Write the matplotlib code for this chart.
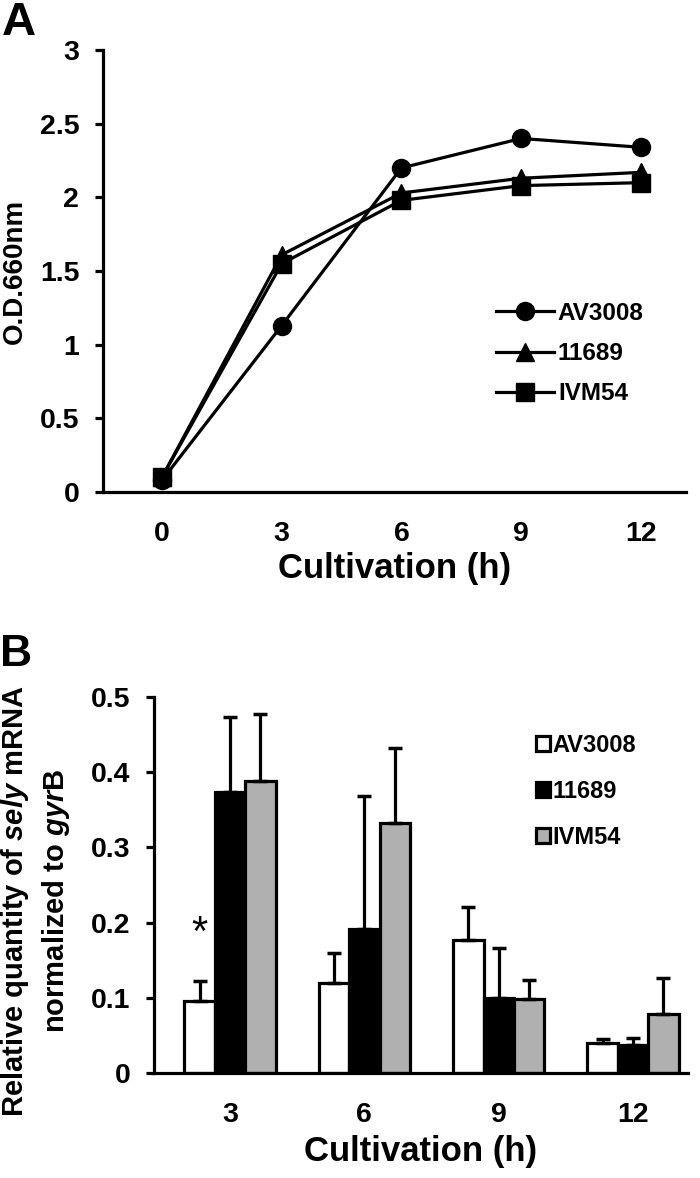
import matplotlib
matplotlib.use("Agg")
import matplotlib.pyplot as plt
import numpy as np
from matplotlib.ticker import FormatStrFormatter

plt.rcParams['font.family'] = ['Liberation Sans', 'DejaVu Sans']
plt.rcParams['font.weight'] = 'bold'
plt.rcParams['mathtext.fontset'] = 'custom'
plt.rcParams['mathtext.it'] = 'Liberation Sans:italic:bold'
plt.rcParams['mathtext.rm'] = 'Liberation Sans:bold'

# ======================= Data =========================================================
strains = ['AV3008', '11689', 'IVM54']

# panel A : growth curve
hours_a = [0, 3, 6, 9, 12]
od_av3008 = [0.08, 1.13, 2.20, 2.40, 2.34]
od_11689 = [0.10, 1.61, 2.03, 2.13, 2.17]
od_ivm54 = [0.10, 1.55, 1.98, 2.08, 2.10]

# panel B : sely mRNA relative quantity (mean and upper error)
hours_b = ['3', '6', '9', '12']
rq_av3008 = [0.096, 0.120, 0.177, 0.040]
rq_11689 = [0.374, 0.191, 0.100, 0.037]
rq_ivm54 = [0.388, 0.332, 0.099, 0.079]
err_av3008 = [0.027, 0.040, 0.044, 0.005]
err_11689 = [0.100, 0.177, 0.066, 0.009]
err_ivm54 = [0.089, 0.100, 0.025, 0.047]

# ======================= Figure =======================================================
fig = plt.figure(figsize=(7, 11.78), dpi=100)

ax_a = fig.add_axes([0.147, 0.5823, 0.833, 0.3752])
ax_b = fig.add_axes([0.22, 0.0891, 0.763, 0.3192])

lw = 2.3

# ---------- panel A ----------
ax_a.plot(hours_a, od_av3008, color='black', lw=lw, marker='o', ms=13, label=strains[0], zorder=3)
ax_a.plot(hours_a, od_11689, color='black', lw=lw, marker='^', ms=13, label=strains[1], zorder=3)
ax_a.plot(hours_a, od_ivm54, color='black', lw=lw, marker='s', ms=12.5, label=strains[2], zorder=3)

ax_a.set_xlim(-1.48, 13.13)
ax_a.set_ylim(0, 3)
ax_a.set_xticks(hours_a)
ax_a.set_yticks(np.arange(0, 3.01, 0.5))
ax_a.yaxis.set_major_formatter(FormatStrFormatter('%g'))
ax_a.set_xlabel('Cultivation (h)', fontsize=25, fontweight='bold')
ax_a.set_ylabel('O.D.660nm', fontsize=20, fontweight='bold')
ax_a.yaxis.set_label_coords(-0.128, 0.5)
ax_a.xaxis.set_label_coords(0.5, -0.135)

ax_a.legend(loc='upper left', bbox_to_anchor=(0.674, 0.43), frameon=False,
            fontsize=17.5, handlelength=2.4, handletextpad=0.15, labelspacing=0.7,
            borderpad=0, borderaxespad=0)

# ---------- panel B ----------
x = np.arange(len(hours_b))
w = 0.226
bar_kw = dict(width=w, edgecolor='black', linewidth=lw, zorder=2)
err_kw = dict(fmt='none', ecolor='black', elinewidth=lw, capsize=5, capthick=2.5, zorder=3)

for off, vals, errs, col, name in [(-w, rq_av3008, err_av3008, 'white', strains[0]),
                                   (0, rq_11689, err_11689, 'black', strains[1]),
                                   (w, rq_ivm54, err_ivm54, '#b0b0b0', strains[2])]:
    ax_b.errorbar(x + off, vals, yerr=[np.zeros(len(vals)), errs], **err_kw)
    ax_b.bar(x + off, vals, color=col, label=name, **bar_kw)

ax_b.text(x[0] - w, 0.185, '*', ha='center', va='center', fontsize=30, fontweight='normal')

ax_b.set_xlim(-0.566, 3.41)
ax_b.set_ylim(0, 0.5)
ax_b.set_xticks(x)
ax_b.set_xticklabels(hours_b)
ax_b.set_yticks(np.arange(0, 0.51, 0.1))
ax_b.yaxis.set_major_formatter(FormatStrFormatter('%g'))
ax_b.set_xlabel('Cultivation (h)', fontsize=25, fontweight='bold')
ax_b.set_ylabel('Relative quantity of $\\mathit{sely}$ mRNA\nnormalized to $\\mathit{gyr}$B',
                fontsize=21, fontweight='bold', linespacing=1.35)
ax_b.yaxis.set_label_coords(-0.154, 0.457)
ax_b.xaxis.set_label_coords(0.5, -0.165)

ax_b.legend(loc='upper left', bbox_to_anchor=(0.715, 0.902), frameon=False,
            fontsize=17, handlelength=0.6, handleheight=0.6, handletextpad=0.1,
            labelspacing=0.98, borderpad=0, borderaxespad=0)

# ---------- shared styling ----------
for ax in (ax_a, ax_b):
    for side in ('top', 'right'):
        ax.spines[side].set_visible(False)
    for side in ('left', 'bottom'):
        ax.spines[side].set_linewidth(lw)
    ax.tick_params(axis='y', direction='out', length=6, width=lw, labelsize=20.5, pad=11)
    ax.tick_params(axis='x', length=0, labelsize=20.5, pad=21)
    for lab in ax.get_xticklabels() + ax.get_yticklabels():
        lab.set_fontweight('bold')

fig.text(0.003, 0.999, 'A', ha='left', va='top', fontsize=34, fontweight='bold')
fig.text(0.0, 1 - 634 / 1178, 'B', ha='left', va='top', fontsize=32, fontweight='bold')

fig.savefig('out.png', dpi=100)
